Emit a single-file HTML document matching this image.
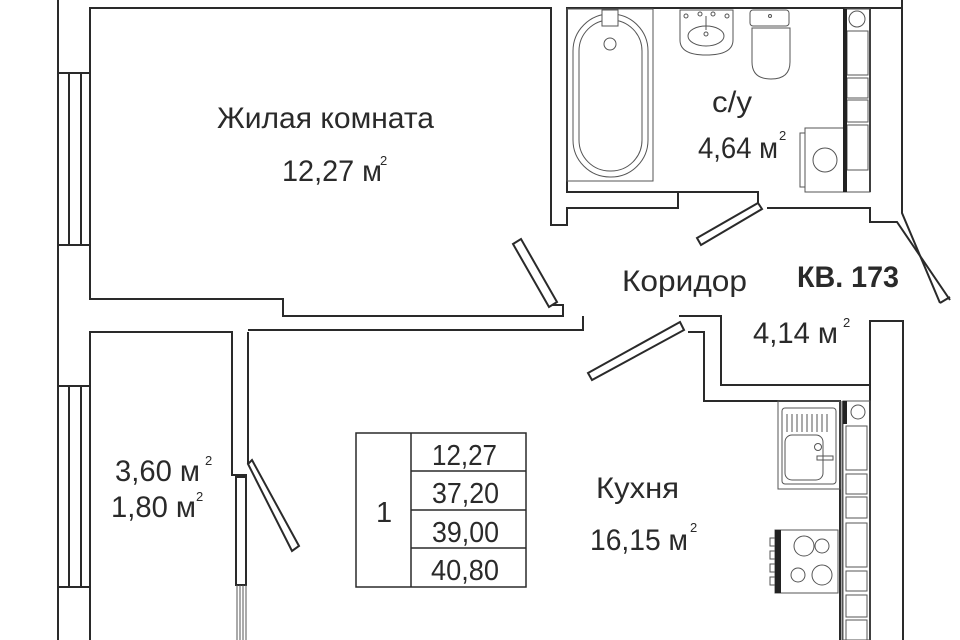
<!DOCTYPE html>
<html><head><meta charset="utf-8"><style>
html,body{margin:0;padding:0;background:#fff;width:960px;height:640px;overflow:hidden}
svg{display:block}
text{font-family:"Liberation Sans","DejaVu Sans",sans-serif;fill:#2a2a2a}
</style></head><body>
<svg width="960" height="640" viewBox="0 0 960 640" xmlns="http://www.w3.org/2000/svg">
<g fill="none" stroke="#2a2a2a" stroke-width="2">
<line x1="58" y1="0" x2="58" y2="640"/>
<rect x="58" y="73" width="32" height="172"/>
<line x1="69" y1="73" x2="69" y2="245"/><line x1="81" y1="73" x2="81" y2="245"/>
<rect x="58" y="386" width="32" height="201"/>
<line x1="69" y1="386" x2="69" y2="587"/><line x1="81" y1="386" x2="81" y2="587"/>
<polyline points="90,245 90,8 551,8 551,225 567,225 567,208 678,208 678,192 567,192 567,8 902,8"/>
<line x1="90" y1="73" x2="90" y2="245"/>
<polyline points="90,245 90,299 283,299 283,316 563,316 563,305 552,305"/>
<polygon points="513,244 521,239 557,302 549,307"/>
<polyline points="583,316 583,330 248,330"/>
<polyline points="567,192 758,192 758,203"/>
<polygon points="697,238 758,203 762,209 701,245"/>
<polyline points="767,208 870,208 870,222 897,222 950,300"/>
<polyline points="902,0 902,213 940,303"/>
<line x1="940" y1="303" x2="950" y2="297"/>
<line x1="870" y1="8" x2="870" y2="192"/>
<polyline points="679,316 721,316 721,385 870,385 870,321 903,321 903,640"/>
<polyline points="688,332 704,332 704,401 840,401 840,640"/>
<polygon points="588,373 680,322 684,330 592,380"/>
<polyline points="870,385 870,401 870,640"/>
<polyline points="90,386 90,332 232,332 232,475 246,475 246,585"/>
<line x1="90" y1="587" x2="90" y2="640"/>
<rect x="236" y="477" width="10" height="108"/>
<line x1="248" y1="332" x2="248" y2="464"/>
<polygon points="248,464 252,460 299,546 292,551"/>
</g>
<g fill="none" stroke="#555" stroke-width="1">
<line x1="237" y1="585" x2="237" y2="640"/><line x1="240" y1="585" x2="240" y2="640"/><line x1="243" y1="585" x2="243" y2="640"/><line x1="246" y1="585" x2="246" y2="640"/>
<rect x="567" y="9" width="86" height="172"/>
<rect x="573" y="14" width="75" height="163" rx="37"/>
<rect x="579" y="20" width="63" height="151" rx="31"/>
<rect x="602" y="10" width="16" height="16" fill="#fff"/>
<circle cx="610" cy="44" r="6"/>
<path d="M680 10 H733 V40 Q733 55 706 55 Q680 55 680 40 Z"/>
<ellipse cx="706" cy="36" rx="18" ry="10"/>
<circle cx="686" cy="16" r="2"/><circle cx="700" cy="14" r="2"/><circle cx="713" cy="14" r="2"/><circle cx="727" cy="16" r="2"/>
<line x1="706" y1="16" x2="706" y2="30"/><circle cx="706" cy="34" r="2"/>
<rect x="750" y="10" width="39" height="16" rx="3"/>
<path d="M752 28 H790 V62 Q790 79 771 79 Q752 79 752 62 Z"/>
<circle cx="770" cy="16" r="1.5"/>
<rect x="845" y="9" width="25" height="183"/>
<circle cx="857" cy="19" r="8"/>
<rect x="847" y="31" width="21" height="44"/><rect x="847" y="78" width="21" height="20"/><rect x="847" y="100" width="21" height="22"/><rect x="847" y="125" width="21" height="45"/>
<rect x="805" y="128" width="40" height="64"/><rect x="800" y="133" width="5" height="54"/>
<circle cx="825" cy="160" r="12"/>
<rect x="778" y="401" width="62" height="88"/>
<rect x="782" y="408" width="54" height="76" rx="3"/>
<rect x="785" y="435" width="38" height="45" rx="7"/>
<line x1="787" y1="414" x2="787" y2="432"/><line x1="792" y1="414" x2="792" y2="432"/><line x1="797" y1="414" x2="797" y2="432"/><line x1="802" y1="414" x2="802" y2="432"/><line x1="807" y1="414" x2="807" y2="432"/><line x1="812" y1="414" x2="812" y2="432"/><line x1="817" y1="414" x2="817" y2="432"/><line x1="822" y1="414" x2="822" y2="432"/><line x1="827" y1="414" x2="827" y2="432"/>
<circle cx="818" cy="447" r="3.5"/><rect x="817" y="456" width="16" height="4"/>
<rect x="775" y="530" width="63" height="63"/>
<circle cx="804" cy="546" r="10"/><circle cx="822" cy="546" r="7"/><circle cx="798" cy="575" r="7"/><circle cx="822" cy="575" r="10"/>
<rect x="770" y="538" width="5" height="8"/><rect x="770" y="551" width="5" height="8"/><rect x="770" y="564" width="5" height="8"/><rect x="770" y="577" width="5" height="8"/>
<rect x="843" y="401" width="27" height="239"/>
<circle cx="858" cy="412" r="7"/>
<rect x="846" y="426" width="21" height="44"/><rect x="846" y="474" width="21" height="20"/><rect x="846" y="497" width="21" height="21"/><rect x="846" y="523" width="21" height="44"/><rect x="846" y="571" width="21" height="20"/><rect x="846" y="595" width="21" height="22"/><rect x="846" y="620" width="21" height="22"/>
<line x1="842" y1="401" x2="842" y2="640"/>
</g>
<g fill="#222">
<rect x="843" y="9" width="4" height="183"/>
<rect x="843" y="401" width="4" height="23"/>
<rect x="775" y="530" width="6" height="63"/>
</g>
<g fill="none" stroke="#2a2a2a" stroke-width="1.5">
<rect x="356" y="433" width="170" height="154"/>
<line x1="411" y1="433" x2="411" y2="587"/>
<line x1="411" y1="471" x2="526" y2="471"/><line x1="411" y1="510" x2="526" y2="510"/><line x1="411" y1="548" x2="526" y2="548"/>
</g>
<g font-size="29">
<text x="376" y="522" textLength="14">1</text>
<text x="432" y="465" textLength="65" lengthAdjust="spacingAndGlyphs">12,27</text>
<text x="432" y="503" textLength="67" lengthAdjust="spacingAndGlyphs">37,20</text>
<text x="432" y="542" textLength="67" lengthAdjust="spacingAndGlyphs">39,00</text>
<text x="431" y="580" textLength="68" lengthAdjust="spacingAndGlyphs">40,80</text>
</g>
<g font-size="30">
<text x="217" y="128" textLength="217" lengthAdjust="spacingAndGlyphs">Жилая комната</text>
<text x="282" y="181" textLength="100" lengthAdjust="spacingAndGlyphs">12,27 м</text>
<text x="712" y="112" textLength="40" lengthAdjust="spacingAndGlyphs">с/у</text>
<text x="698" y="158" textLength="80" lengthAdjust="spacingAndGlyphs">4,64 м</text>
<text x="622" y="291" textLength="125" lengthAdjust="spacingAndGlyphs">Коридор</text>
<text x="753" y="343" textLength="85" lengthAdjust="spacingAndGlyphs">4,14 м</text>
<text x="596" y="498" textLength="83" lengthAdjust="spacingAndGlyphs">Кухня</text>
<text x="590" y="550" textLength="98" lengthAdjust="spacingAndGlyphs">16,15 м</text>
<text x="115" y="481" textLength="85" lengthAdjust="spacingAndGlyphs">3,60 м</text>
<text x="111" y="517" textLength="85" lengthAdjust="spacingAndGlyphs">1,80 м</text>
<text x="797" y="287" font-weight="bold" textLength="102" lengthAdjust="spacingAndGlyphs">КВ. 173</text>
</g>
<g font-size="13">
<text x="380" y="165">2</text>
<text x="779" y="140">2</text>
<text x="843" y="327">2</text>
<text x="690" y="532">2</text>
<text x="205" y="465">2</text>
<text x="196" y="501">2</text>
</g>
</svg>
</body></html>
